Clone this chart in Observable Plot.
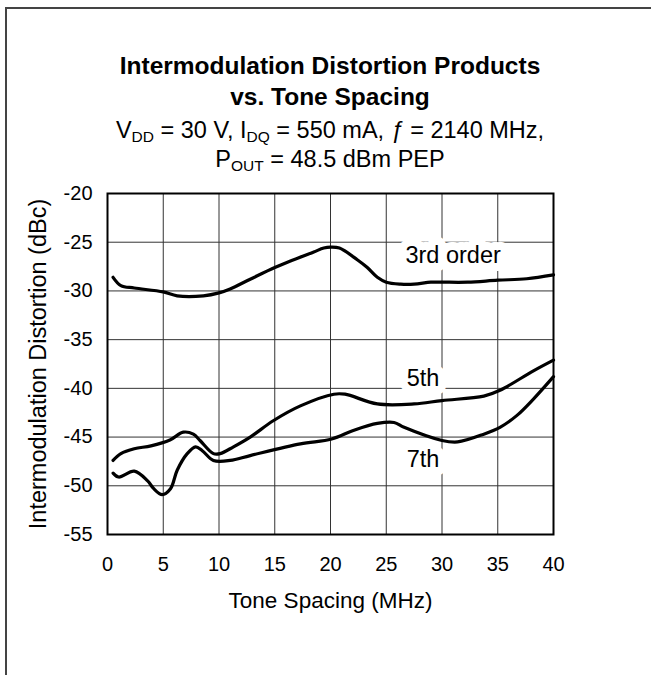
<!DOCTYPE html>
<html>
<head>
<meta charset="utf-8">
<script src="https://cdn.jsdelivr.net/npm/d3@7"></script>
<script src="https://cdn.jsdelivr.net/npm/@observablehq/plot@0.6"></script>
<style>
  html, body { margin: 0; padding: 0; background: #fff; overflow: hidden; }
  #wrap { position: relative; width: 651px; height: 675px; overflow: hidden; font-family: "Liberation Sans", Arial, sans-serif; color: #000; }
  #border { position: absolute; left: 5px; top: 7px; width: 900px; height: 900px; border: 2px solid #444; box-sizing: border-box; }
  .line { position: absolute; left: 80px; width: 500px; text-align: center; white-space: nowrap; }
  .t { font-weight: bold; font-size: 24.5px; line-height: 24px; }
  .s { font-size: 23.5px; line-height: 23px; }
  .sb { font-size: 0.66em; position: relative; top: 0.28em; }
  #chart { position: absolute; left: 0; top: 0; }
</style>
</head>
<body>
<div id="wrap">
  <div id="border"></div>
  <div id="chart"></div>
  <div class="line t" style="top:54px">Intermodulation Distortion Products</div>
  <div class="line t" style="top:85px">vs. Tone Spacing</div>
  <div class="line s" style="top:119px">V<span class="sb">DD</span> = 30 V, I<span class="sb">DQ</span> = 550 mA, <i>ƒ</i> = 2140 MHz,</div>
  <div class="line s" style="top:148px">P<span class="sb">OUT</span> = 48.5 dBm PEP</div>
</div>
<script>
// Tone spacing (MHz) and IMD (dBc)
const thirdX = [0.5, 1.2, 2.4, 5, 6.25, 8.6, 10, 11, 12.8, 15, 16.7, 18.5, 19.4, 20, 20.8, 22.4, 23.3, 24.2, 25, 26.3, 27.5, 29, 30, 32.3, 35, 37.6, 40];
const thirdY = [-28.6, -29.45, -29.7, -30.1, -30.5, -30.5, -30.2, -29.8, -28.8, -27.6, -26.8, -26.0, -25.6, -25.5, -25.6, -26.8, -27.6, -28.6, -29.1, -29.3, -29.3, -29.1, -29.1, -29.1, -28.9, -28.75, -28.35];

const fifthX = [0.5, 1.2, 2.4, 3.9, 5.6, 6.8, 7.7, 8.3, 9.5, 10.1, 11.3, 12.8, 14.9, 17.3, 20.3, 21.3, 24.2, 27.5, 30, 33.75, 35.2, 38.2, 40];
const fifthY = [-47.4, -46.7, -46.2, -45.9, -45.3, -44.5, -44.7, -45.35, -46.7, -46.7, -46.0, -45.0, -43.3, -41.8, -40.6, -40.6, -41.6, -41.6, -41.25, -40.8, -40.2, -38.2, -37.1];

const seventhX = [0.5, 1.0, 2.4, 3.6, 4.15, 4.9, 5.65, 6.25, 7.15, 7.9, 8.5, 9.5, 11, 12.8, 17.3, 20.1, 22.1, 24.2, 25.7, 26.6, 30, 31.4, 33.75, 35.2, 36.7, 38.2, 40];
const seventhY = [-48.7, -49.1, -48.5, -49.5, -50.3, -50.9, -50.3, -48.4, -46.7, -46.0, -46.4, -47.4, -47.4, -46.9, -45.7, -45.2, -44.3, -43.6, -43.5, -44.0, -45.35, -45.5, -44.7, -44.0, -42.8, -41.1, -38.8];

const xTicks = [0, 5, 10, 15, 20, 25, 30, 35, 40];
const yTicks = [-55, -50, -45, -40, -35, -30, -25, -20];

const curveLabels = ["3rd order", "5th", "7th"];
const labelX = [31.0, 28.3, 28.3];
const labelY = [-26.4, -39.0, -47.3];

const toRows = (xs, ys) => xs.map((x, i) => ({x, y: ys[i]}));
const series = [toRows(thirdX, thirdY), toRows(fifthX, fifthY), toRows(seventhX, seventhY)];
const labels = curveLabels.map((t, i) => ({t, x: labelX[i], y: labelY[i]}));

const chart = Plot.plot({
  width: 651,
  height: 675,
  marginTop: 193,
  marginBottom: 141,
  marginLeft: 107,
  marginRight: 98,
  style: {fontFamily: '"Liberation Sans", Arial, sans-serif', background: "transparent", color: "#000", overflow: "visible"},
  x: {domain: [0, 40]},
  y: {domain: [-55, -20]},
  marks: [
    Plot.gridX(xTicks, {stroke: "#333", strokeOpacity: 1, strokeWidth: 1}),
    Plot.gridY(yTicks, {stroke: "#333", strokeOpacity: 1, strokeWidth: 1}),
    Plot.text(labels, {x: "x", y: "y", text: "t", fontSize: 23.5, fill: "#000", stroke: "#fff", strokeWidth: 16, strokeLinejoin: "round"}),
    ...series.map(d => Plot.line(d, {x: "x", y: "y", stroke: "#000", strokeWidth: 3.2, curve: "catmull-rom"})),
    Plot.frame({stroke: "#000", strokeWidth: 2}),
    Plot.axisX(xTicks, {tickSize: 0, tickPadding: 22, fontSize: 20, label: null, tickFormat: d => String(d)}),
    Plot.axisY(yTicks, {tickSize: 0, tickPadding: 15, fontSize: 20, label: null, tickFormat: d => String(d)}),
    Plot.text(["Tone Spacing (MHz)"], {frameAnchor: "bottom", dy: 73, fontSize: 22.5, fill: "#000"}),
    Plot.text(["Intermodulation Distortion (dBc)"], {frameAnchor: "left", textAnchor: "middle", dx: -69, rotate: -90, fontSize: 23.5, fill: "#000"})
  ]
});
document.getElementById("chart").appendChild(chart);
</script>
</body>
</html>
